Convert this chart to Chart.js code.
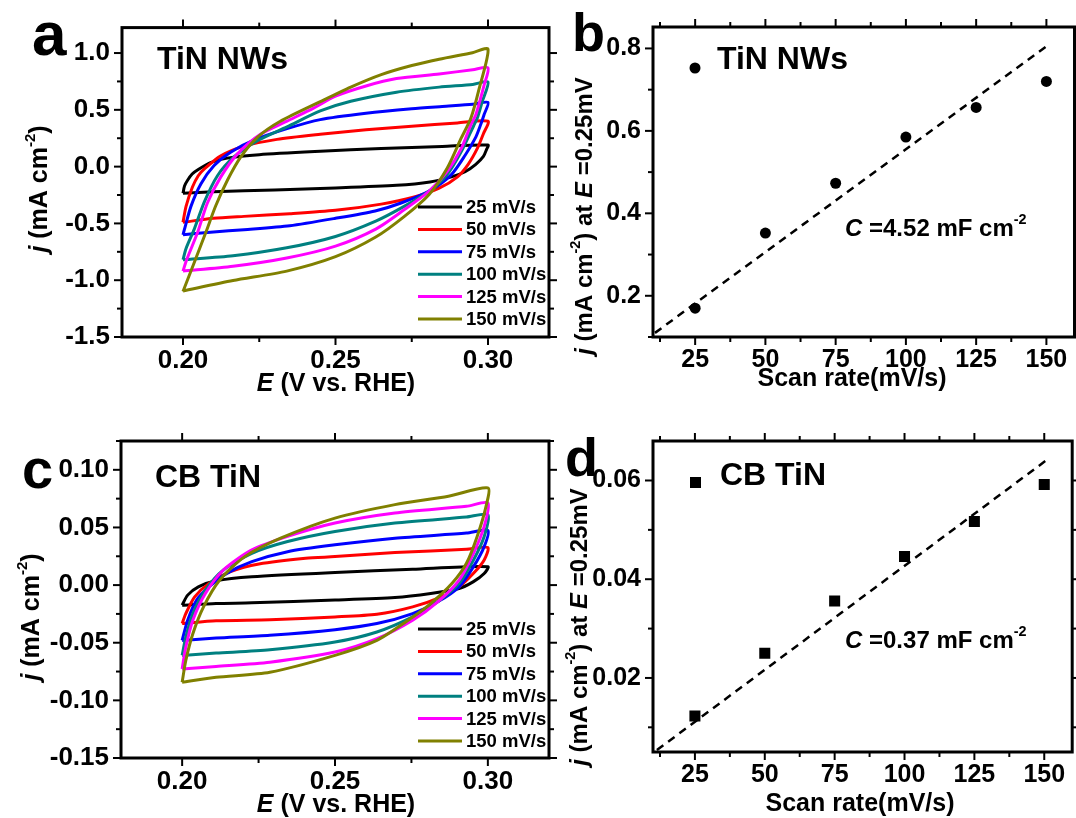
<!DOCTYPE html>
<html>
<head>
<meta charset="utf-8">
<script src="https://cdn.jsdelivr.net/npm/chart.js@4.4.1/dist/chart.umd.min.js"></script>
<style>
  body { margin: 0; background: #fff; overflow: hidden; width: 1076px; height: 818px; position: relative; }
  canvas { position: absolute; }
</style>
</head>
<body>
<canvas id="pa" width="560" height="400" style="left:0;top:0"></canvas>
<canvas id="pb" width="520" height="400" style="left:560px;top:0"></canvas>
<canvas id="pc" width="560" height="408" style="left:0;top:410px"></canvas>
<canvas id="pd" width="520" height="408" style="left:560px;top:410px"></canvas>
<script>
// ---- data ----
const scanRates = ['25 mV/s', '50 mV/s', '75 mV/s', '100 mV/s', '125 mV/s', '150 mV/s'];
const rateColors = ['#000000', '#ff0000', '#0000ff', '#008080', '#ff00ff', '#808000'];

// TiN NWs cyclic voltammograms, [E (V), j (mA cm-2)], forward then reverse sweep
const nw25 = [[0.200,-0.235],[0.2005,-0.17],[0.2015,-0.12],[0.203,-0.065],[0.205,-0.025],[0.209,0.035],[0.2145,0.075],[0.225,0.105],[0.245,0.135],[0.265,0.16],[0.285,0.178],[0.300,0.19],
  [0.2995,0.15],[0.2985,0.09],[0.296,0.02],[0.2925,-0.045],[0.288,-0.09],[0.281,-0.135],[0.27,-0.165],[0.25,-0.188],[0.23,-0.205],[0.21,-0.222],[0.200,-0.235]];
const nw50 = [[0.200,-0.49],[0.201,-0.35],[0.2031,-0.18],[0.205,-0.08],[0.207,-0.02],[0.2124,0.095],[0.22,0.18],[0.2308,0.24],[0.245,0.285],[0.26,0.325],[0.275,0.355],[0.29,0.385],[0.300,0.40],
  [0.2985,0.29],[0.2965,0.16],[0.2935,0.02],[0.29,-0.09],[0.284,-0.19],[0.2755,-0.27],[0.265,-0.33],[0.25,-0.385],[0.235,-0.415],[0.22,-0.438],[0.21,-0.455],[0.200,-0.49]];
const nw75 = [[0.200,-0.60],[0.2004,-0.56],[0.2026,-0.35],[0.2059,-0.15],[0.2102,0.01],[0.2156,0.127],[0.2232,0.233],[0.2341,0.334],[0.245,0.414],[0.26,0.47],[0.275,0.51],[0.285,0.53],[0.295,0.549],[0.300,0.565],
  [0.2987,0.457],[0.2976,0.37],[0.296,0.26],[0.2925,0.10],[0.288,-0.07],[0.281,-0.21],[0.2715,-0.32],[0.263,-0.39],[0.25,-0.455],[0.235,-0.52],[0.22,-0.555],[0.21,-0.575],[0.200,-0.60]];
const nw100 = [[0.200,-0.82],[0.201,-0.72],[0.2037,-0.55],[0.207,-0.31],[0.2113,-0.08],[0.2167,0.085],[0.2243,0.227],[0.2341,0.35],[0.245,0.49],[0.255,0.575],[0.27,0.655],[0.284,0.70],[0.295,0.724],[0.300,0.745],
  [0.2981,0.572],[0.2965,0.428],[0.2953,0.36],[0.2912,0.13],[0.2866,-0.07],[0.2807,-0.216],[0.2725,-0.35],[0.2632,-0.48],[0.25,-0.615],[0.234,-0.715],[0.2164,-0.785],[0.200,-0.82]];
const nw125 = [[0.200,-0.92],[0.2012,-0.82],[0.2048,-0.578],[0.208,-0.32],[0.2124,-0.09],[0.2178,0.11],[0.2254,0.284],[0.2341,0.40],[0.2428,0.515],[0.25,0.62],[0.26,0.71],[0.27,0.775],[0.284,0.816],[0.295,0.853],[0.300,0.87],
  [0.2987,0.716],[0.296,0.457],[0.2944,0.37],[0.2912,0.158],[0.2866,-0.043],[0.2807,-0.216],[0.2725,-0.38],[0.2632,-0.55],[0.25,-0.70],[0.234,-0.805],[0.2164,-0.878],[0.200,-0.92]];
const nw150 = [[0.200,-1.10],[0.2075,-0.578],[0.2107,-0.347],[0.2146,-0.118],[0.2189,0.084],[0.2243,0.256],[0.2319,0.399],[0.245,0.572],[0.255,0.70],[0.265,0.81],[0.275,0.89],[0.284,0.946],[0.2949,1.003],[0.300,1.035],
  [0.2971,0.687],[0.2944,0.428],[0.2912,0.25],[0.2866,-0.014],[0.2807,-0.245],[0.2725,-0.44],[0.2632,-0.62],[0.25,-0.793],[0.234,-0.92],[0.2164,-1.003],[0.200,-1.095]];

// CB TiN cyclic voltammograms
const cb25 = [[0.200,-0.0174],[0.2018,-0.0087],[0.2053,-0.0015],[0.2111,0.0038],[0.2228,0.0073],[0.25,0.011],[0.2754,0.0137],[0.300,0.016],
  [0.2988,0.010],[0.2953,0.003],[0.2906,-0.003],[0.2813,-0.0073],[0.2696,-0.0108],[0.25,-0.013],[0.2228,-0.0154],[0.2111,-0.016],[0.200,-0.0174]];
const cb50 = [[0.200,-0.0334],[0.2012,-0.0247],[0.2041,-0.0102],[0.2088,0.0015],[0.2158,0.0116],[0.2251,0.0183],[0.2404,0.0233],[0.25,0.0247],[0.2696,0.0282],[0.293,0.0311],[0.300,0.0326],
  [0.2988,0.0218],[0.2953,0.0102],[0.2906,-0.0015],[0.2848,-0.0102],[0.2754,-0.0189],[0.2637,-0.0253],[0.25,-0.0276],[0.2287,-0.030],[0.2111,-0.031],[0.200,-0.0334]];
const cb75 = [[0.200,-0.048],[0.2018,-0.0305],[0.2047,-0.0131],[0.2088,-0.0015],[0.2146,0.0102],[0.2228,0.0203],[0.2345,0.029],[0.25,0.0349],[0.2696,0.0407],[0.293,0.0451],[0.300,0.0474],
  [0.2988,0.0334],[0.2953,0.016],[0.2906,-0.0015],[0.2836,-0.0145],[0.2754,-0.0247],[0.2637,-0.0334],[0.25,-0.0387],[0.2287,-0.0436],[0.2111,-0.046],[0.200,-0.048]];
const cb100 = [[0.200,-0.061],[0.2012,-0.045],[0.2035,-0.0247],[0.2076,-0.0044],[0.2135,0.0131],[0.2228,0.0276],[0.2345,0.0378],[0.25,0.0465],[0.2696,0.0538],[0.293,0.059],[0.300,0.061],
  [0.2988,0.0422],[0.2953,0.0218],[0.2906,0.0015],[0.2836,-0.0145],[0.2754,-0.0276],[0.2637,-0.0407],[0.25,-0.0494],[0.2287,-0.0561],[0.2111,-0.059],[0.200,-0.061]];
const cb125 = [[0.200,-0.0727],[0.2012,-0.0538],[0.2035,-0.0305],[0.2076,-0.0073],[0.2135,0.0131],[0.2228,0.0305],[0.2345,0.0422],[0.25,0.0538],[0.2696,0.0625],[0.293,0.0683],[0.300,0.0712],
  [0.2988,0.0509],[0.2953,0.0276],[0.2906,0.0044],[0.2836,-0.0145],[0.2754,-0.0305],[0.2637,-0.0465],[0.25,-0.0581],[0.2287,-0.0669],[0.2111,-0.0706],[0.200,-0.0727]];
const cb150 = [[0.200,-0.0843],[0.2012,-0.0654],[0.2035,-0.0422],[0.207,-0.0189],[0.2123,0.0044],[0.2205,0.0247],[0.2322,0.0407],[0.25,0.0581],[0.2696,0.0698],[0.2871,0.077],[0.300,0.0843],
  [0.2994,0.0683],[0.2965,0.0422],[0.293,0.0189],[0.2883,0.0015],[0.2813,-0.016],[0.2731,-0.032],[0.2637,-0.048],[0.25,-0.061],[0.2287,-0.0756],[0.2111,-0.08],[0.200,-0.0843]];

// current at E = 0.25 vs scan rate
const rateX = [25, 50, 75, 100, 125, 150];
const nwJ = [0.17, 0.352, 0.473, 0.585, 0.657, 0.72];
const cbJ = [0.0123, 0.025, 0.0356, 0.0446, 0.0517, 0.0592];
const nwFitX = [10.7, 151];
const nwFitY = [0.11, 0.81];
const cbFitX = [11.4, 151];
const cbFitY = [0.0054, 0.0642];

// ticks
const cvTicksX = [0.20, 0.225, 0.25, 0.275, 0.30];
const cvLabelsX = ['0.20', '', '0.25', '', '0.30'];
const nwTicksY = [-1.5, -1.25, -1.0, -0.75, -0.5, -0.25, 0, 0.25, 0.5, 0.75, 1.0];
const nwLabelsY = ['-1.5', '', '-1.0', '', '-0.5', '', '0.0', '', '0.5', '', '1.0'];
const cbTicksY = [-0.15, -0.125, -0.1, -0.075, -0.05, -0.025, 0, 0.025, 0.05, 0.075, 0.1, 0.125];
const cbLabelsY = ['-0.15', '', '-0.10', '', '-0.05', '', '0.00', '', '0.05', '', '0.10', ''];
const rateTicks = [12.5, 25, 37.5, 50, 62.5, 75, 87.5, 100, 112.5, 125, 137.5, 150];
const rateLabels = ['', '25', '', '50', '', '75', '', '100', '', '125', '', '150'];
const nwRateTicksY = [0.1, 0.2, 0.3, 0.4, 0.5, 0.6, 0.7, 0.8];
const nwRateLabelsY = ['', '0.2', '', '0.4', '', '0.6', '', '0.8'];
const cbRateTicksY = [0.01, 0.02, 0.03, 0.04, 0.05, 0.06];
const cbRateLabelsY = ['', '0.02', '', '0.04', '', '0.06'];

// ---- drawing helpers ----
const FAM = '"Liberation Sans", Arial, sans-serif';
Chart.defaults.font.family = FAM;
Chart.defaults.color = '#000';

function fnt(size, style) {
  return (style == 'i' ? 'italic ' : '') + 'bold ' + size + 'px ' + FAM;
};

// parts: [text, style] with style '' | 'i' (italic) | 's' (superscript)
function richText(ctx, parts, x, y, size, align, rot) {
  ctx.save();
  ctx.translate(x, y);
  if (rot) ctx.rotate(rot);
  let total = 0;
  parts.forEach(p => {
    ctx.font = fnt(p[1] == 's' ? size * 0.6 : size, p[1]);
    total += ctx.measureText(p[0]).width;
  });
  let cx = align == 'left' ? 0 : -total / 2;
  ctx.textBaseline = 'middle';
  ctx.textAlign = 'left';
  ctx.fillStyle = '#000';
  parts.forEach(p => {
    let sz = p[1] == 's' ? size * 0.6 : size;
    ctx.font = fnt(sz, p[1]);
    ctx.fillText(p[0], cx, p[1] == 's' ? -size * 0.38 : 0);
    cx += ctx.measureText(p[0]).width;
  });
  ctx.restore();
};

function seg(ctx, x1, y1, x2, y2) {
  ctx.beginPath();
  ctx.moveTo(x1, y1);
  ctx.lineTo(x2, y2);
  ctx.stroke();
};

// box frame plus outward ticks on all four sides (major 8px, minor 5px)
const frameTicks = {
  id: 'frameTicks',
  afterDraw(chart) {
    const ctx = chart.ctx, a = chart.chartArea;
    const xs = chart.scales.x, ys = chart.scales.y;
    ctx.save();
    ctx.strokeStyle = '#000';
    ctx.lineWidth = 2;
    xs.ticks.forEach(t => {
      let len = t.label ? 8 : 5;
      let px = xs.getPixelForValue(t.value);
      seg(ctx, px, a.bottom, px, a.bottom + len);
      seg(ctx, px, a.top, px, a.top - len);
    });
    ys.ticks.forEach(t => {
      let len = t.label ? 8 : 5;
      let py = ys.getPixelForValue(t.value);
      seg(ctx, a.left, py, a.left - len, py);
      seg(ctx, a.right, py, a.right + len, py);
    });
    ctx.lineWidth = 3;
    ctx.strokeRect(a.left, a.top, a.right - a.left, a.bottom - a.top);
    ctx.restore();
  }
};

function axisScale(min, max, ticks, labels, fontSize, pad, fitProp, fitVal) {
  return {
    type: 'linear',
    min: min,
    max: max,
    grid: { display: false, drawTicks: false },
    border: { display: false },
    ticks: {
      autoSkip: false,
      maxRotation: 0,
      padding: pad,
      font: { size: fontSize, weight: 'bold' },
      color: '#000',
      callback: (v, i) => labels[i]
    },
    afterBuildTicks: s => { s.ticks = ticks.map(v => ({ value: v })); },
    afterFit: s => { s[fitProp] = fitVal; }
  };
};

function cvLegend(ctx, top) {
  for (let i = 0; i < scanRates.length; i++) {
    let y = top + i * 22.4;
    ctx.save();
    ctx.strokeStyle = rateColors[i];
    ctx.lineWidth = 3;
    seg(ctx, 418, y, 462, y);
    ctx.restore();
    ctx.fillStyle = '#000';
    ctx.font = fnt(18.5);
    ctx.textBaseline = 'middle';
    ctx.textAlign = 'left';
    ctx.fillText(scanRates[i], 466, y + 1);
  };
};

function cvChart(id, loops, yMin, yMax, ticksY, labelsY, box, drawText) {
  let canvas = document.getElementById(id);
  let datasets = loops.map((loop, i) => ({
    data: loop.map(p => ({ x: p[0], y: p[1] })),
    showLine: true,
    borderColor: rateColors[i],
    borderWidth: 3,
    pointRadius: 0,
    tension: 0.25,
    fill: false,
    order: loops.length - i
  }));
  return new Chart(canvas, {
    type: 'scatter',
    data: { datasets: datasets },
    options: {
      responsive: false,
      animation: false,
      events: [],
      layout: { padding: { top: box.top, right: canvas.width - box.right, left: 0, bottom: 0 } },
      plugins: { legend: { display: false }, tooltip: { enabled: false } },
      scales: {
        x: axisScale(0.18, 0.32, cvTicksX, cvLabelsX, 26, 8, 'height', canvas.height - box.bottom),
        y: axisScale(yMin, yMax, ticksY, labelsY, 26, 12, 'width', box.left)
      }
    },
    plugins: [frameTicks, { id: 'txt', afterDraw: c => drawText(c.ctx) }]
  });
};

function rateChart(id, ys, fitX, fitY, pointStyle, radius, yMin, yMax, ticksY, labelsY, box, drawText) {
  let canvas = document.getElementById(id);
  return new Chart(canvas, {
    type: 'scatter',
    data: {
      datasets: [
        {
          data: rateX.map((x, i) => ({ x: x, y: ys[i] })),
          pointStyle: pointStyle,
          pointRadius: radius,
          backgroundColor: '#000',
          borderColor: '#000',
          borderWidth: 0,
          showLine: false
        },
        {
          data: fitX.map((x, i) => ({ x: x, y: fitY[i] })),
          showLine: true,
          borderColor: '#000',
          borderWidth: 2.5,
          borderDash: [8, 6],
          pointRadius: 0
        }
      ]
    },
    options: {
      responsive: false,
      animation: false,
      events: [],
      layout: { padding: { top: box.top, right: canvas.width - box.right, left: 0, bottom: 0 } },
      plugins: { legend: { display: false }, tooltip: { enabled: false } },
      scales: {
        x: axisScale(10, 160, rateTicks, rateLabels, 25, 8, 'height', canvas.height - box.bottom),
        y: axisScale(yMin, yMax, ticksY, labelsY, 25, 12, 'width', box.left)
      }
    },
    plugins: [frameTicks, { id: 'txt', afterDraw: c => drawText(c.ctx, c.chartArea) }]
  });
};

function letter(ctx, ch, x, y, size) {
  ctx.fillStyle = '#000';
  ctx.font = fnt(size);
  ctx.textAlign = 'left';
  ctx.textBaseline = 'alphabetic';
  ctx.fillText(ch, x, y);
};

function label(ctx, text, x, y, size) {
  ctx.fillStyle = '#000';
  ctx.font = fnt(size);
  ctx.textAlign = 'left';
  ctx.textBaseline = 'middle';
  ctx.fillText(text, x, y);
};

const jTitle = [['j', 'i'], [' (mA cm', ''], ['-2', 's'], [')', '']];
const jAtTitle = [['j', 'i'], [' (mA cm', ''], ['-2', 's'], [') at ', ''], ['E', 'i'], [' =0.25mV', '']];
const eTitle = [['E', 'i'], [' (V vs. RHE)', '']];
const rateTitle = [['Scan rate(mV/s)', '']];

// ---- panels ----
cvChart('pa', [nw25, nw50, nw75, nw100, nw125, nw150], -1.5, 1.224, nwTicksY, nwLabelsY,
  { left: 122, top: 21, right: 549, bottom: 337 },
  ctx => {
    letter(ctx, 'a', 32, 55, 62);
    label(ctx, 'TiN NWs', 157, 60, 32);
    richText(ctx, jTitle, 40, 189, 25, 'center', -Math.PI / 2);
    richText(ctx, eTitle, 336, 384, 25, 'center');
    cvLegend(ctx, 207);
  });

rateChart('pb', nwJ, nwFitX, nwFitY, 'circle', 5.5, 0.1, 0.852, nwRateTicksY, nwRateLabelsY,
  { left: 93, top: 21, right: 518, bottom: 337 },
  (ctx, a) => {
    letter(ctx, 'b', 12, 51, 54);
    ctx.beginPath();
    ctx.arc(a.left + 42, a.top + 41, 5.5, 0, Math.PI * 2);
    ctx.fill();
    label(ctx, 'TiN NWs', 157, 60, 32);
    richText(ctx, [['C', 'i'], [' =4.52 mF cm', ''], ['-2', 's']], 285, 229, 24, 'left');
    richText(ctx, jAtTitle, 25, 216, 24, 'center', -Math.PI / 2);
    richText(ctx, rateTitle, 292, 379, 25, 'center');
  });

cvChart('pc', [cb25, cb50, cb75, cb100, cb125, cb150], -0.15, 0.125, cbTicksY, cbLabelsY,
  { left: 121, top: 31, right: 549, bottom: 348 },
  ctx => {
    letter(ctx, 'c', 22, 78, 56);
    label(ctx, 'CB TiN', 155, 68, 32);
    richText(ctx, jTitle, 32, 207, 25, 'center', -Math.PI / 2);
    richText(ctx, eTitle, 336, 395, 25, 'center');
    cvLegend(ctx, 219);
  });

rateChart('pd', cbJ, cbFitX, cbFitY, 'rect', 7.8, 0.005, 0.068, cbRateTicksY, cbRateLabelsY,
  { left: 93, top: 31, right: 518, bottom: 342 },
  (ctx, a) => {
    letter(ctx, 'd', 5, 66, 54);
    ctx.fillRect(a.left + 37, a.top + 36, 11, 11);
    label(ctx, 'CB TiN', 160, 66, 32);
    richText(ctx, [['C', 'i'], [' =0.37 mF cm', ''], ['-2', 's']], 285, 231, 24, 'left');
    richText(ctx, jAtTitle, 20, 217, 24, 'center', -Math.PI / 2);
    richText(ctx, rateTitle, 300, 394, 25, 'center');
  });
</script>
</body>
</html>
